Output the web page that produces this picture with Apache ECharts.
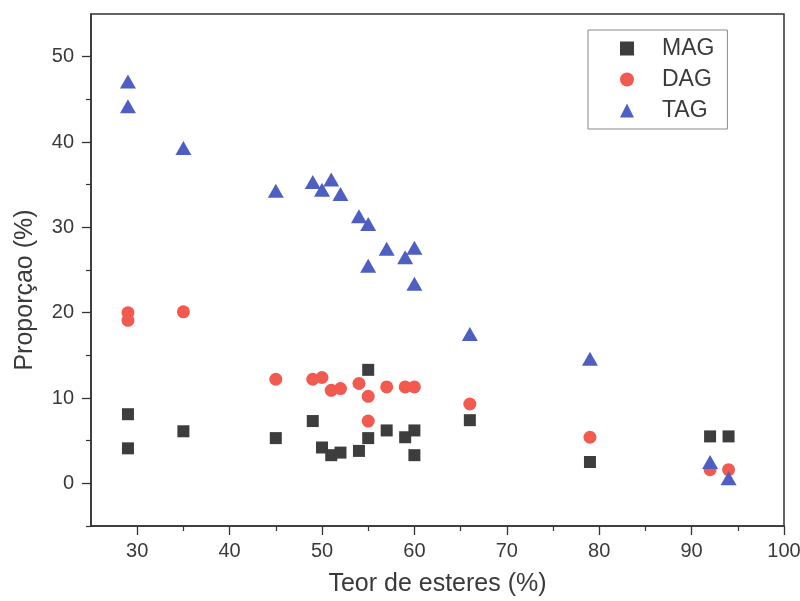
<!DOCTYPE html>
<html>
<head>
<meta charset="utf-8">
<script src="https://cdn.jsdelivr.net/npm/echarts@6/dist/echarts.min.js"></script>
<style>
  html, body { margin: 0; padding: 0; background: #fff; }
  #chart { width: 800px; height: 601px; }
</style>
</head>
<body>
<div id="chart"></div>
<script>
// Ester content (%) and product composition (%)
const magX = [29, 29, 35, 45, 49, 50, 51, 52, 54, 55, 55, 57, 59, 60, 60, 66, 79, 92, 94];
const magY = [8.1, 4.1, 6.1, 5.3, 7.3, 4.2, 3.3, 3.6, 3.8, 13.3, 5.3, 6.2, 5.4, 6.2, 3.3, 7.4, 2.5, 5.5, 5.5];

const dagX = [29, 29, 35, 45, 49, 50, 51, 52, 54, 55, 55, 57, 59, 60, 66, 79, 92, 94];
const dagY = [20.0, 19.1, 20.1, 12.2, 12.2, 12.4, 10.9, 11.1, 11.7, 10.2, 7.3, 11.3, 11.3, 11.3, 9.3, 5.4, 1.6, 1.6];

const tagX = [29, 29, 35, 45, 49, 50, 51, 52, 54, 55, 57, 55, 59, 60, 60, 66, 79, 92, 94];
const tagY = [47.1, 44.2, 39.3, 34.3, 35.3, 34.4, 35.6, 33.9, 31.3, 30.4, 27.5, 25.5, 26.5, 27.6, 23.4, 17.5, 14.6, 2.5, 0.6];

const xMajor = [30, 40, 50, 60, 70, 80, 90, 100];
const xMinor = [35, 45, 55, 65, 75, 85, 95];
const yMajor = [0, 10, 20, 30, 40, 50];
const yMinor = [-5, 5, 15, 25, 35, 45];

const zip = (xs, ys) => xs.map((x, i) => [x, ys[i]]);

const axisColor = '#333';
const textColor = '#3a3a3a';
const labelFont = { fontFamily: 'Liberation Sans', fontSize: 20, color: textColor };
const titleFont = { fontFamily: 'Liberation Sans', fontSize: 25, color: textColor };

const chart = echarts.init(document.getElementById('chart'), null, { renderer: 'canvas' });

const baseX = { type: 'value', min: 25, max: 100, splitLine: { show: false } };
const baseY = { type: 'value', min: -5, max: 55, splitLine: { show: false } };

chart.setOption({
  animation: false,
  backgroundColor: '#fff',
  grid: {
    left: 91, right: 16, top: 14, bottom: 75,
    outerBoundsMode: 'none',
    containLabel: false,
    show: true, borderColor: axisColor, borderWidth: 1.5, backgroundColor: 'transparent'
  },
  legend: {
    orient: 'vertical',
    left: 588, top: 30,
    padding: [7, 13, 7, 32],
    itemGap: 8,
    itemWidth: 14, itemHeight: 14,
    borderColor: '#888', borderWidth: 1,
    textStyle: { fontFamily: 'Liberation Sans', fontSize: 23, lineHeight: 23, color: textColor, padding: [0, 0, 0, 23] },
    data: [
      { name: 'MAG', icon: 'rect' },
      { name: 'DAG', icon: 'circle' },
      { name: 'TAG', icon: 'triangle' }
    ]
  },
  xAxis: [
    Object.assign({}, baseX, {
      name: 'Teor de esteres (%)',
      nameLocation: 'middle',
      nameGap: 46,
      nameTextStyle: titleFont,
      axisLine: { onZero: false, lineStyle: { color: axisColor, width: 1.5 } },
      axisTick: { inside: false, length: 9, customValues: xMajor, lineStyle: { color: axisColor, width: 1.3 } },
      axisLabel: Object.assign({ margin: 15, customValues: xMajor }, labelFont)
    }),
    Object.assign({}, baseX, {
      position: 'bottom',
      axisLine: { show: false, onZero: false },
      axisTick: { inside: false, length: 5, customValues: xMinor, lineStyle: { color: axisColor, width: 1.2 } },
      axisLabel: { show: false }
    })
  ],
  yAxis: [
    Object.assign({}, baseY, {
      name: 'Proporçao (%)',
      nameLocation: 'middle',
      nameGap: 53,
      nameTextStyle: Object.assign({ padding: [0, 40, 0, 0] }, titleFont),
      axisLine: { onZero: false, lineStyle: { color: axisColor, width: 1.5 } },
      axisTick: { inside: false, length: 9, customValues: yMajor, lineStyle: { color: axisColor, width: 1.3 } },
      axisLabel: Object.assign({ margin: 17, customValues: yMajor }, labelFont)
    }),
    Object.assign({}, baseY, {
      position: 'left',
      axisLine: { show: false, onZero: false },
      axisTick: { inside: false, length: 5, customValues: yMinor, lineStyle: { color: axisColor, width: 1.2 } },
      axisLabel: { show: false }
    })
  ],
  series: [
    {
      name: 'MAG', type: 'scatter', symbol: 'rect', symbolSize: 12,
      itemStyle: { color: '#3d3d3d', opacity: 1 },
      data: zip(magX, magY), z: 3
    },
    {
      name: 'DAG', type: 'scatter', symbol: 'circle', symbolSize: 13,
      itemStyle: { color: '#f25a4f', opacity: 1 },
      data: zip(dagX, dagY), z: 2
    },
    {
      name: 'TAG', type: 'scatter', symbol: 'triangle', symbolSize: [16, 14],
      itemStyle: { color: '#4e5fc1', opacity: 1 },
      data: zip(tagX, tagY), z: 4
    }
  ]
});
</script>
</body>
</html>
